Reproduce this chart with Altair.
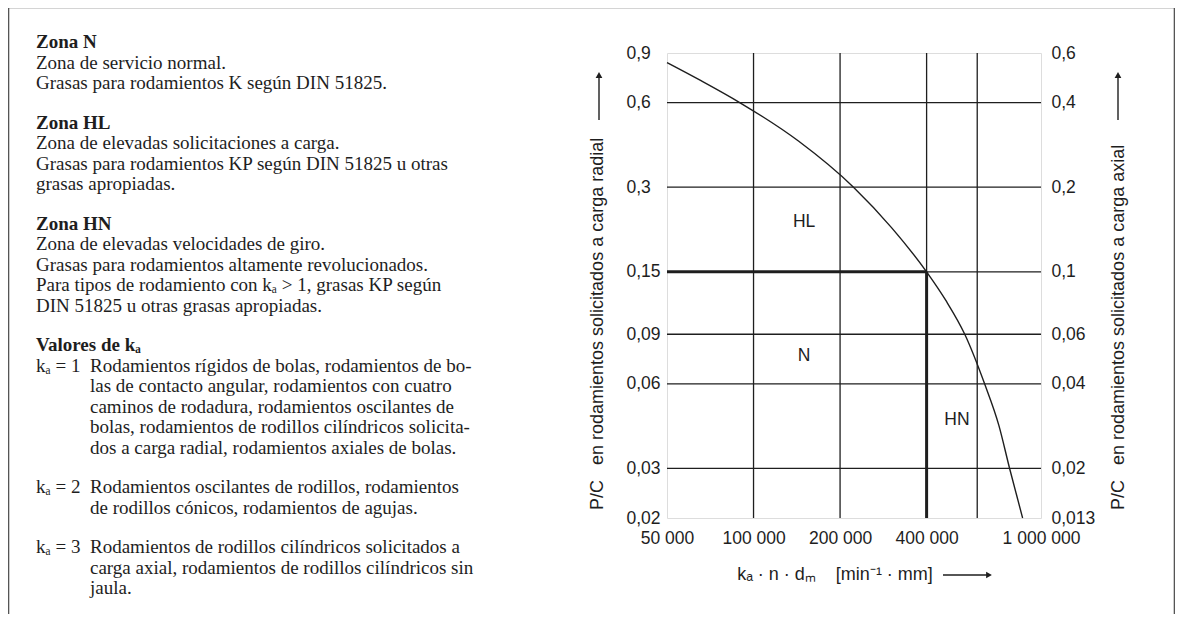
import altair as alt
import pandas as pd

# ---------------- data ----------------
curve_x = [50000, 65900, 89500, 143300, 222700, 302000, 400000,
           466600, 543000, 636500, 713500, 777700, 863000]
curve_y = [0.832, 0.716, 0.6, 0.4377, 0.3, 0.2155, 0.15,
           0.1187, 0.09, 0.06, 0.0427, 0.03, 0.02]

x_ticks = [50000, 100000, 200000, 400000, 1000000]
x_tick_labels = ["50 000", "100 000", "200 000", "400 000", "1 000 000"]
x_grid = [100000, 200000, 400000, 600000]

y_ticks = [0.9, 0.6, 0.3, 0.15, 0.09, 0.06, 0.03, 0.02]
y_labels_left = ["0,9", "0,6", "0,3", "0,15", "0,09", "0,06", "0,03", "0,02"]
y_labels_right = ["0,6", "0,4", "0,2", "0,1", "0,06", "0,04", "0,02", "0,013"]
y_grid = [0.6, 0.3, 0.15, 0.09, 0.06, 0.03]

x_min, x_max = 50000, 1000000
y_min, y_max = 0.02, 0.9
limit_x, limit_y = 400000, 0.15

zone_names = ["HL", "N", "HN"]
zone_x = [150000, 150000, 510000]
zone_y = [0.225, 0.0752, 0.0447]

NB = "\u00a0"
y_title_left = f"P/C{NB}{NB}{NB}en rodamientos solicitados a carga radial"
y_title_right = f"P/C{NB}{NB}{NB}en rodamientos solicitados a carga axial"
x_title = f"kₐ · n · dₘ{NB}{NB}{NB}{NB}[min⁻¹ · mm]"

paragraphs = [
    ("Zona N", ["Zona de servicio normal.",
                "Grasas para rodamientos K según DIN 51825."]),
    ("Zona HL", ["Zona de elevadas solicitaciones a carga.",
                 "Grasas para rodamientos KP según DIN 51825 u otras",
                 "grasas apropiadas."]),
    ("Zona HN", ["Zona de elevadas velocidades de giro.",
                 "Grasas para rodamientos altamente revolucionados.",
                 "Para tipos de rodamiento con kₐ > 1, grasas KP según",
                 "DIN 51825 u otras grasas apropiadas."]),
]
ka_heading = "Valores de kₐ"
ka_items = [
    ("kₐ = 1", ["Rodamientos rígidos de bolas, rodamientos de bo-",
                "las de contacto angular, rodamientos con cuatro",
                "caminos de rodadura, rodamientos oscilantes de",
                "bolas, rodamientos de rodillos cilíndricos solicita-",
                "dos a carga radial, rodamientos axiales de bolas."]),
    ("kₐ = 2", ["Rodamientos oscilantes de rodillos, rodamientos",
                "de rodillos cónicos, rodamientos de agujas."]),
    ("kₐ = 3", ["Rodamientos de rodillos cilíndricos solicitados a",
                "carga axial, rodamientos de rodillos cilíndricos sin",
                "jaula."]),
]

# ---------------- style / layout ----------------
W, H = 374, 465
OX, OY = 667, 53          # absolute position of plot origin
SANS = "Liberation Sans"
SERIF = "Liberation Serif"
INK = "#1e1e1e"
FS = 17.5
TFS = 19
LH = 20.5
GAP = 19

xs = alt.Scale(type="log", domain=[x_min, x_max], nice=False)
ys = alt.Scale(type="log", domain=[y_min, y_max], nice=False)


def label_expr(values, labels):
    expr = "''"
    for v, l in reversed(list(zip(values, labels))):
        expr = f"(abs(datum.value - {v}) < {v * 1e-3}) ? '{l}' : ({expr})"
    return expr


x_axis = alt.Axis(
    values=x_ticks, labelExpr=label_expr(x_ticks, x_tick_labels),
    ticks=False, tickSize=0, domain=False, grid=False, labelPadding=11,
    labelFont=SANS, labelFontSize=FS, labelColor=INK, title=None,
    labelFlush=False, labelOverlap=False)


def X(field):
    return alt.X(field, scale=xs, axis=x_axis)


one = pd.DataFrame({"k": [0]})

# horizontal grid + left axis
h_grid = alt.Chart(pd.DataFrame({"y": y_grid})).mark_rule(color=INK, strokeWidth=1.3).encode(
    y=alt.Y("y:Q", scale=ys, axis=alt.Axis(
        orient="left", values=y_ticks, labelExpr=label_expr(y_ticks, y_labels_left),
        ticks=False, tickSize=0, domain=False, grid=False, labelAlign="left",
        labelPadding=41, labelFont=SANS, labelFontSize=FS, labelColor=INK,
        title=None, labelBaseline="middle"))
)

# vertical grid + x axis
v_grid = alt.Chart(pd.DataFrame({"x": x_grid})).mark_rule(color=INK, strokeWidth=1.3).encode(
    x=X("x:Q"))

# thick limit lines
thick_h = alt.Chart(pd.DataFrame({"x": [x_min], "x2": [limit_x], "y": [limit_y]})).mark_rule(
    color=INK, strokeWidth=3).encode(
    x=X("x:Q"), x2="x2:Q", y=alt.Y("y:Q", scale=ys, axis=None))
thick_v = alt.Chart(pd.DataFrame({"x": [limit_x], "y": [y_min], "y2": [limit_y]})).mark_rule(
    color=INK, strokeWidth=3).encode(
    x=X("x:Q"), y=alt.Y("y:Q", scale=ys, axis=None), y2="y2:Q")

# curve
curve = alt.Chart(pd.DataFrame({"x": curve_x, "y": curve_y})).mark_line(
    color=INK, strokeWidth=1.4, interpolate="monotone").encode(
    x=X("x:Q"), y=alt.Y("y:Q", scale=ys, axis=None))

# zone labels
zones = alt.Chart(pd.DataFrame({"x": zone_x, "y": zone_y, "t": zone_names})).mark_text(
    font=SANS, fontSize=FS, color=INK).encode(
    x=X("x:Q"), y=alt.Y("y:Q", scale=ys, axis=None), text="t:N")

# right axis (same positions, axial labels)
right_axis = alt.Chart(pd.DataFrame({"y": y_ticks})).mark_point(opacity=0).encode(
    y=alt.Y("y:Q", scale=ys, axis=alt.Axis(
        orient="right", values=y_ticks, labelExpr=label_expr(y_ticks, y_labels_right),
        ticks=False, tickSize=0, domain=False, grid=False, labelPadding=10,
        labelFont=SANS, labelFontSize=FS, labelColor=INK, title=None,
        labelBaseline="middle"))
)

layers = [h_grid, v_grid, thick_h, thick_v, curve, zones, right_axis]


def txt(text, x, y, **kw):
    return alt.Chart(one).mark_text(**kw).encode(
        x=alt.value(x), y=alt.value(y), text=alt.value(text))


layers.append(txt(y_title_left, 598 - OX, 510 - OY, angle=270, align="left",
                  baseline="middle", font=SANS, fontSize=18, color=INK))
layers.append(txt(y_title_right, 1119 - OX, 510 - OY, angle=270, align="left",
                  baseline="middle", font=SANS, fontSize=18, color=INK))
layers.append(txt(x_title, 835 - OX, 575 - OY, align="center", baseline="middle",
                  font=SANS, fontSize=18, color=INK))

for ax in (599 - OX, 1118 - OX):
    layers.append(alt.Chart(one).mark_rule(color=INK, strokeWidth=1.4).encode(
        x=alt.value(ax), y=alt.value(76 - OY), y2=alt.value(120 - OY)))
    layers.append(alt.Chart(one).mark_point(shape="triangle-up", filled=True, size=45,
                                            color=INK, opacity=1).encode(
        x=alt.value(ax), y=alt.value(75 - OY)))
layers.append(alt.Chart(one).mark_rule(color=INK, strokeWidth=1.4).encode(
    x=alt.value(943 - OX), x2=alt.value(987 - OX), y=alt.value(575 - OY)))
layers.append(alt.Chart(one).mark_point(shape="triangle-right", filled=True, size=45,
                                        color=INK, opacity=1).encode(
    x=alt.value(989 - OX), y=alt.value(575 - OY)))

# outer frame
FL, FT, FR, FB = 8.5 - OX, 7.5 - OY, 1174.5 - OX, 614 - OY
for enc in (dict(x=alt.value(FL), y=alt.value(FT), y2=alt.value(FB)),
            dict(x=alt.value(FR), y=alt.value(FT), y2=alt.value(FB)),
            dict(x=alt.value(FL), x2=alt.value(FR), y=alt.value(FT))):
    layers.append(alt.Chart(one).mark_rule(color="#555", strokeWidth=1.6).encode(**enc))

# left text block
TX, IX = 36 - OX, 90 - OX
base = 6  # baseline offset from visual centre


def add_block(x, y_center, lines, bold=False):
    layers.append(alt.Chart(one).mark_text(
        align="left", baseline="alphabetic", font=SERIF, fontSize=TFS,
        fontWeight="bold" if bold else "normal", color=INK, lineHeight=LH).encode(
        x=alt.value(x), y=alt.value(y_center + base - OY), text=alt.value(lines)))


y_line = 42
for head, body in paragraphs:
    add_block(TX, y_line, [head], bold=True)
    add_block(TX, y_line + LH, body)
    y_line += LH * (1 + len(body)) + GAP

add_block(TX, y_line, [ka_heading], bold=True)
y_line += LH
for label, body in ka_items:
    add_block(TX, y_line, [label])
    add_block(IX, y_line, body)
    y_line += LH * len(body) + GAP

chart = alt.layer(*layers).resolve_scale(y="independent").properties(
    width=W, height=H,
    padding={"left": OX - 8, "top": OY - 8, "right": 1175 - OX - W, "bottom": 614 - OY - H},
    autosize=alt.AutoSizeParams(type="none"),
).configure_view(stroke=INK, strokeWidth=1.4).configure(background="white")

chart.save("out.html", embed_options={"renderer": "svg", "actions": False})
